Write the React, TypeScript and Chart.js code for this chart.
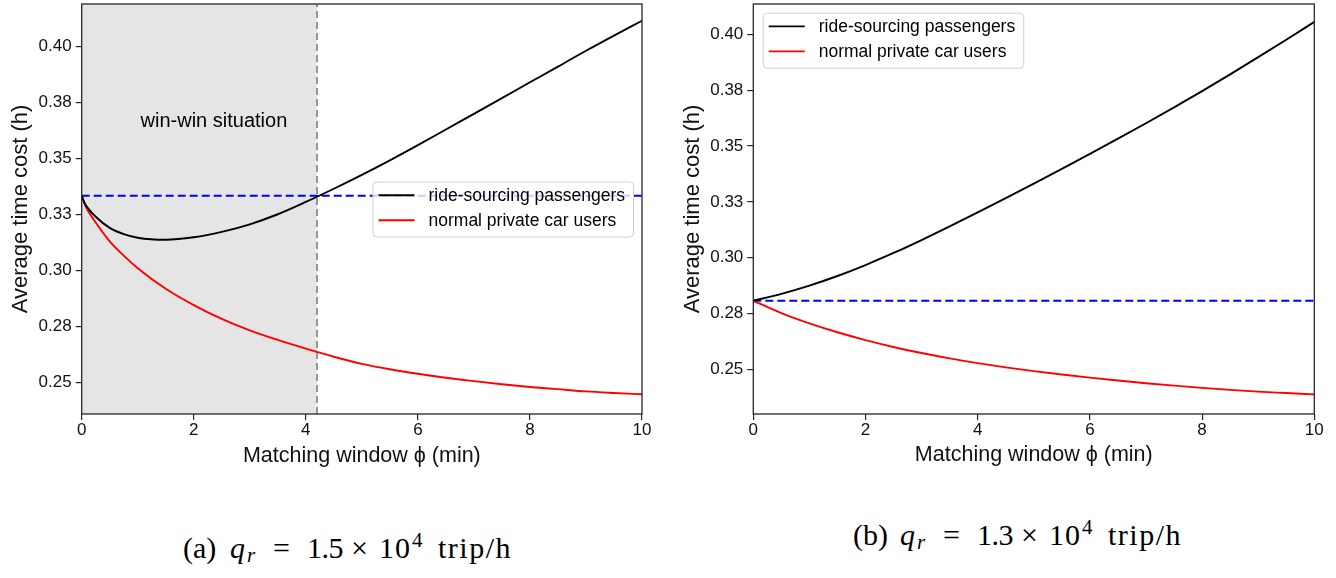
import React, { useEffect, useRef } from 'react';
import { Chart, registerables } from 'chart.js';
Chart.register(...registerables);

const SANS = "'Liberation Sans', Arial, sans-serif";
const SERIF = "'Liberation Serif', 'Times New Roman', serif";

// ---------- shared axes ----------
const xTicks = [0, 2, 4, 6, 8, 10];
const yTicks = [0.25, 0.275, 0.3, 0.325, 0.35, 0.375, 0.4];
const seriesLabels = ['ride-sourcing passengers', 'normal private car users'];
const xTitle = 'Matching window ϕ (min)';
const yTitle = 'Average time cost (h)';

// ---------- panel (a) q_r = 1.5e4 ----------
const xA = [0, 0.05, 0.1, 0.25, 0.5, 0.75, 1, 1.5, 2, 2.5, 3, 3.5, 4, 4.5, 5, 5.5, 6, 6.5, 7, 7.5, 8, 8.5, 9, 9.5, 10];
const rideA = [0.3334, 0.3302, 0.3282, 0.3240, 0.3190, 0.3162, 0.3146, 0.3137, 0.3148, 0.3172, 0.3206, 0.3251, 0.3306, 0.3365, 0.3427, 0.3492, 0.3560, 0.3630, 0.3700, 0.3770, 0.3841, 0.3911, 0.3982, 0.4050, 0.4116];
const carA = [0.3334, 0.3298, 0.3272, 0.3214, 0.3130, 0.3066, 0.3010, 0.2918, 0.2845, 0.2783, 0.2732, 0.2689, 0.2650, 0.2614, 0.2582, 0.2558, 0.2538, 0.2520, 0.2505, 0.2491, 0.2479, 0.2469, 0.2459, 0.2452, 0.2446];
const baseA = 0.3334;
const winWinEnd = 4.2;
const winWinLabel = 'win-win situation';
const winWinPos = [2.36, 0.3642];

// ---------- panel (b) q_r = 1.3e4 ----------
const xB = [0, 0.5, 1, 1.5, 2, 2.5, 3, 3.5, 4, 4.5, 5, 5.5, 6, 6.5, 7, 7.5, 8, 8.5, 9, 9.5, 10];
const rideB = [0.2807, 0.2838, 0.2875, 0.2918, 0.2967, 0.3021, 0.3079, 0.3140, 0.3203, 0.3267, 0.3332, 0.3398, 0.3465, 0.3533, 0.3602, 0.3673, 0.3746, 0.3821, 0.3898, 0.3976, 0.4056];
const carB = [0.2807, 0.2752, 0.2706, 0.2666, 0.2631, 0.2600, 0.2573, 0.2549, 0.2528, 0.2509, 0.2492, 0.2477, 0.2463, 0.2450, 0.2438, 0.2427, 0.2417, 0.2408, 0.2400, 0.2394, 0.2388];
const baseB = 0.2807;

type Panel = {
  xs: number[];
  ride: number[];
  car: number[];
  base: number;
  yMin: number;
  yMax: number;
  yAxisWidth: number;
  padRight: number;
  yTitlePad: number;
  xTitlePad: number;
  shadeTo?: number;
  legend: 'centerRight' | 'upperLeft';
};

const panelA: Panel = {
  xs: xA, ride: rideA, car: carA, base: baseA,
  yMin: 0.2358, yMax: 0.4191,
  yAxisWidth: 81.7, padRight: 26, yTitlePad: 8, xTitlePad: 11,
  shadeTo: winWinEnd, legend: 'centerRight',
};
const panelB: Panel = {
  xs: xB, ride: rideB, car: carB, base: baseB,
  yMin: 0.230, yMax: 0.4136,
  yAxisWidth: 85.3, padRight: 21.7, yTitlePad: 11.5, xTitlePad: 12,
  legend: 'upperLeft',
};

function drawLegend(ctx: CanvasRenderingContext2D, area: any, where: string) {
  ctx.save();
  ctx.font = `17.5px ${SANS}`;
  const colors = ['#000000', '#ff0000'];
  const textW = Math.max(...seriesLabels.map((l) => ctx.measureText(l).width));
  const padL = 6, lineLen = 36, gap = 14, padR = 8, h = 55;
  const w = padL + lineLen + gap + textW + padR;
  let x: number, y: number;
  if (where === 'centerRight') {
    x = area.right - 9 - w;
    y = (area.top + area.bottom) / 2 - h / 2;
  } else {
    x = area.left + 9.4;
    y = area.top + 8.7;
  }
  ctx.beginPath();
  (ctx as any).roundRect(x + 0.5, y + 0.5, w, h, 4);
  ctx.fillStyle = 'rgba(255,255,255,0.8)';
  ctx.fill();
  ctx.strokeStyle = '#d0d0d0';
  ctx.lineWidth = 1;
  ctx.stroke();
  seriesLabels.forEach((label, i) => {
    const cy = y + 13.7 + i * 25;
    ctx.beginPath();
    ctx.moveTo(x + padL, cy);
    ctx.lineTo(x + padL + lineLen, cy);
    ctx.strokeStyle = colors[i];
    ctx.lineWidth = 1.9;
    ctx.stroke();
    ctx.fillStyle = '#000';
    ctx.textBaseline = 'middle';
    ctx.textAlign = 'left';
    ctx.fillText(label, x + padL + lineLen + gap, cy + 1);
  });
  ctx.restore();
}

function makeConfig(p: Panel): any {
  const datasets: any[] = [
    {
      data: p.xs.map((x, i) => ({ x, y: p.ride[i] })),
      borderColor: '#000000', borderWidth: 1.9, pointRadius: 0,
      cubicInterpolationMode: 'monotone', order: 1,
    },
    {
      data: p.xs.map((x, i) => ({ x, y: p.car[i] })),
      borderColor: '#ff0000', borderWidth: 1.9, pointRadius: 0,
      cubicInterpolationMode: 'monotone', order: 2,
    },
    {
      data: [{ x: xTicks[0], y: p.base }, { x: xTicks[xTicks.length - 1], y: p.base }],
      borderColor: '#0000ff', borderWidth: 1.9, borderDash: [8, 4], pointRadius: 0, order: 3,
    },
  ];
  if (p.shadeTo !== undefined) {
    datasets.push({
      data: [{ x: p.shadeTo, y: p.yMin }, { x: p.shadeTo, y: p.yMax }],
      borderColor: '#808080', borderWidth: 1.6, borderDash: [7, 4], pointRadius: 0, order: 4,
    });
  }

  const decor = {
    id: 'decor',
    beforeDatasetsDraw(chart: any) {
      if (p.shadeTo === undefined) return;
      const { ctx, chartArea } = chart;
      const xs = chart.scales.x;
      const x0 = xs.getPixelForValue(0);
      const x1 = xs.getPixelForValue(p.shadeTo);
      ctx.save();
      ctx.fillStyle = '#e5e5e5';
      ctx.fillRect(x0, chartArea.top, x1 - x0, chartArea.bottom - chartArea.top);
      ctx.fillStyle = '#000';
      ctx.font = `20px ${SANS}`;
      ctx.textAlign = 'center';
      ctx.textBaseline = 'alphabetic';
      ctx.fillText(
        winWinLabel,
        xs.getPixelForValue(winWinPos[0]),
        chart.scales.y.getPixelForValue(winWinPos[1])
      );
      ctx.restore();
    },
    afterDraw(chart: any) {
      const { ctx, chartArea } = chart;
      drawLegend(ctx, chartArea, p.legend);
      ctx.save();
      ctx.strokeStyle = '#262626';
      ctx.lineWidth = 1.3;
      ctx.strokeRect(chartArea.left, chartArea.top, chartArea.right - chartArea.left, chartArea.bottom - chartArea.top);
      ctx.restore();
    },
  };

  const tickFont = { family: SANS, size: 17 };
  const titleFont = { family: SANS, size: 21.5 };
  const grid = {
    display: true, drawOnChartArea: false, drawTicks: true,
    tickLength: 6, color: '#262626', lineWidth: 1.2,
  };

  return {
    type: 'line',
    data: { datasets },
    plugins: [decor],
    options: {
      animation: false,
      responsive: false,
      maintainAspectRatio: false,
      events: [],
      layout: { padding: { left: 0, right: p.padRight, top: 4, bottom: 0 } },
      plugins: { legend: { display: false }, tooltip: { enabled: false } },
      scales: {
        x: {
          type: 'linear', min: xTicks[0], max: xTicks[xTicks.length - 1],
          afterBuildTicks: (s: any) => { s.ticks = xTicks.map((v) => ({ value: v })); },
          afterFit: (s: any) => { s.height = 66; s.paddingLeft = 0; s.paddingRight = 0; },
          ticks: {
            font: tickFont, color: '#111', padding: 0, maxRotation: 0, autoSkip: false,
            callback: (v: any) => String(v),
          },
          grid, border: { display: false },
          title: { display: true, text: xTitle, font: titleFont, color: '#111', padding: { top: 0, bottom: p.xTitlePad } },
        },
        y: {
          type: 'linear', min: p.yMin, max: p.yMax,
          afterBuildTicks: (s: any) => { s.ticks = yTicks.map((v) => ({ value: v })); },
          afterFit: (s: any) => { s.width = p.yAxisWidth; s.paddingTop = 0; s.paddingBottom = 0; },
          ticks: {
            font: tickFont, color: '#111', padding: 4, autoSkip: false,
            callback: (v: any) => Number(v).toFixed(2),
          },
          grid, border: { display: false },
          title: { display: true, text: yTitle, font: { family: SANS, size: 22 }, color: '#111', padding: { top: p.yTitlePad, bottom: 0 } },
        },
      },
    },
  };
}

function PanelChart({ panel, left }: { panel: Panel; left: number }) {
  const ref = useRef<HTMLCanvasElement>(null);
  useEffect(() => {
    if (!ref.current) return;
    const chart = new Chart(ref.current, makeConfig(panel));
    return () => chart.destroy();
  }, [panel]);
  return (
    <canvas
      ref={ref}
      width={668}
      height={480}
      style={{ position: 'absolute', left, top: 0, width: 668, height: 480 }}
    />
  );
}

function Caption({ tag, value, left, top }: { tag: string; value: string; left: number; top: number }) {
  const base: React.CSSProperties = { position: 'absolute', top: 0, lineHeight: 1 };
  const small: React.CSSProperties = { ...base, fontSize: 21 };
  return (
    <div
      style={{
        position: 'absolute', left, top, width: 340, height: 34, fontFamily: SERIF, fontSize: 30,
        lineHeight: 1, whiteSpace: 'nowrap', color: '#000',
      }}
    >
      <span style={{ ...base, left: 0 }}>{tag}</span>
      <i style={{ ...base, left: 47 }}>q</i>
      <i style={{ ...small, left: 64, top: 12 }}>r</i>
      <span style={{ ...base, left: 90 }}>=</span>
      <span style={{ ...base, left: 124, letterSpacing: -0.5 }}>{value}</span>
      <span style={{ ...base, left: 168 }}>×</span>
      <span style={{ ...base, left: 196, letterSpacing: 1 }}>10</span>
      <span style={{ ...small, left: 229, top: -3 }}>4</span>
      <span style={{ ...base, left: 255, letterSpacing: 1.5 }}>trip/h</span>
    </div>
  );
}

export default function App() {
  return (
    <div style={{ position: 'absolute', left: 0, top: 0, width: 1336, height: 578, background: '#fff', overflow: 'hidden' }}>
      <PanelChart panel={panelA} left={0} />
      <PanelChart panel={panelB} left={668} />
      <Caption tag="(a)" value="1.5" left={183} top={533} />
      <Caption tag="(b)" value="1.3" left={853} top={519.5} />
    </div>
  );
}
